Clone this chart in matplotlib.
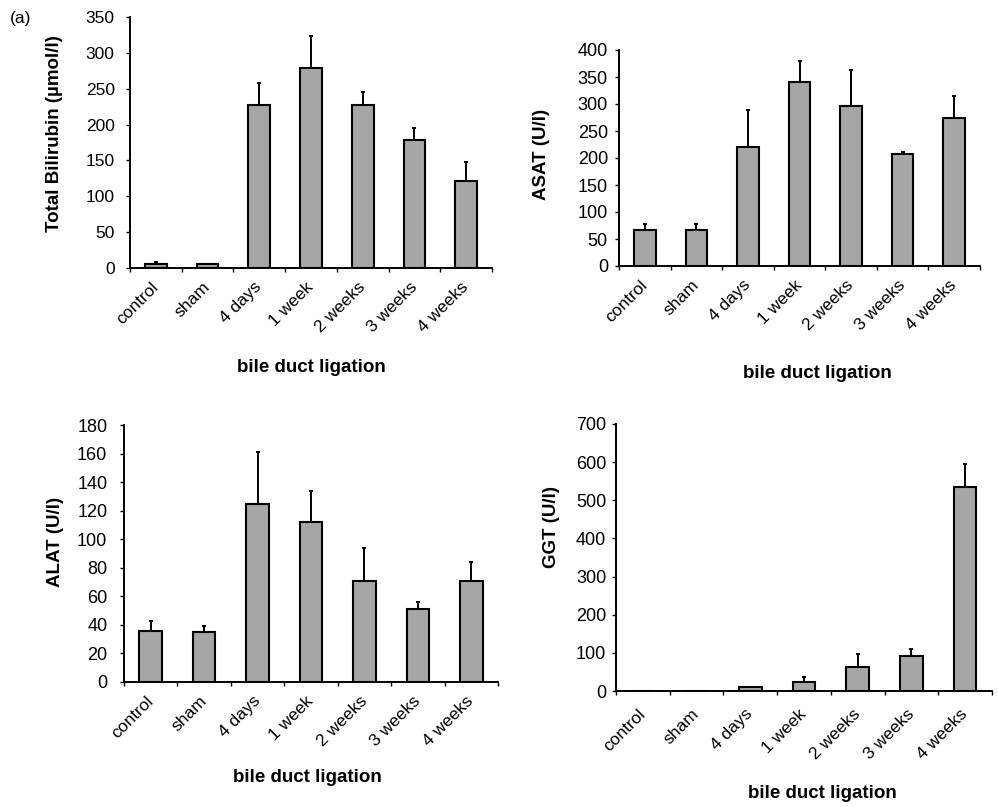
import matplotlib
matplotlib.use("Agg")
import matplotlib.pyplot as plt
import numpy as np

plt.rcParams['font.family'] = ['Liberation Sans', 'DejaVu Sans']

categories = ["control", "sham", "4 days", "1 week", "2 weeks", "3 weeks", "4 weeks"]

bili_mean = [6, 5, 227, 279, 227, 179, 122]
bili_err = [3, 0, 31, 45, 18, 16, 26]

asat_mean = [67, 67, 221, 340, 297, 208, 275]
asat_err = [11, 11, 68, 40, 66, 3, 39]

alat_mean = [36, 35, 125, 112, 71, 51, 71]
alat_err = [7, 4, 36, 22, 23, 5, 13]

ggt_mean = [0, 0, 11, 24, 62, 91, 534]
ggt_err = [0, 0, 0, 12, 34, 20, 62]

W, H = 998, 807
fig = plt.figure(figsize=(W / 100, H / 100), dpi=100)

BAR = "#a6a6a6"


def rect(l, r, t, b):
    return [l / W, 1 - b / H, (r - l) / W, (b - t) / H]


def panel(box, means, errs, ymax, ystep, ylabel, ylab_xy, title_xy, ytick_fs, ypad, xpad):
    ax = fig.add_axes(rect(*box))
    x = np.arange(len(categories))
    ax.bar(x, means, width=0.42, color=BAR, edgecolor="black", linewidth=1.5, zorder=2)
    ax.errorbar(x, means, yerr=[np.zeros(len(errs)), errs], fmt="none", ecolor="black",
                elinewidth=1.4, capsize=1.5, capthick=1.4, zorder=1)
    ax.set_xlim(-0.5, len(categories) - 0.5)
    ax.set_ylim(0, ymax)
    ax.set_yticks(np.arange(0, ymax + 1, ystep))
    for s in ["top", "right"]:
        ax.spines[s].set_visible(False)
    for s in ["left", "bottom"]:
        ax.spines[s].set_linewidth(1.4)
    ax.tick_params(axis="y", direction="out", length=3, width=1, labelsize=ytick_fs, pad=ypad)
    # boundary ticks
    ax.set_xticks(np.arange(-0.5, len(categories)), labels=[])
    ax.tick_params(axis="x", which="major", direction="out", length=3, width=1)
    ax.set_xticks(x, labels=categories, minor=True)
    ax.tick_params(axis="x", which="minor", length=0, pad=xpad, labelsize=12.5)
    for lab in ax.get_xticklabels(minor=True):
        lab.set_rotation(45)
        lab.set_ha("right")
        lab.set_va("center")
        lab.set_rotation_mode("anchor")
    fig.text(ylab_xy[0] / W, 1 - ylab_xy[1] / H, ylabel, rotation=90, ha="center", va="center",
             fontsize=13.5, fontweight="bold")
    fig.text(title_xy[0] / W, 1 - title_xy[1] / H, "bile duct ligation", ha="center", va="center",
             fontsize=13.5, fontweight="bold")
    return ax


panel((130, 492, 17, 268), bili_mean, bili_err, 350, 50, "Total Bilirubin (\u00b5mol/l)",
      (55, 134), (311, 368), 12.5, 8, 12)
panel((619, 980, 50, 266), asat_mean, asat_err, 400, 50, "ASAT (U/l)",
      (542, 154), (817, 373), 13, 5, 12)
panel((124, 498, 425, 682), alat_mean, alat_err, 180, 20, "ALAT (U/l)",
      (56, 542), (307, 777), 13, 9, 12)
panel((616, 992, 424, 691), ggt_mean, ggt_err, 700, 100, "GGT (U/l)",
      (552, 527), (822, 793), 13, 4, 15)

fig.text(10 / W, 1 - 19 / H, "(a)", ha="left", va="center", fontsize=12.5)

fig.savefig("out.png", dpi=100)
